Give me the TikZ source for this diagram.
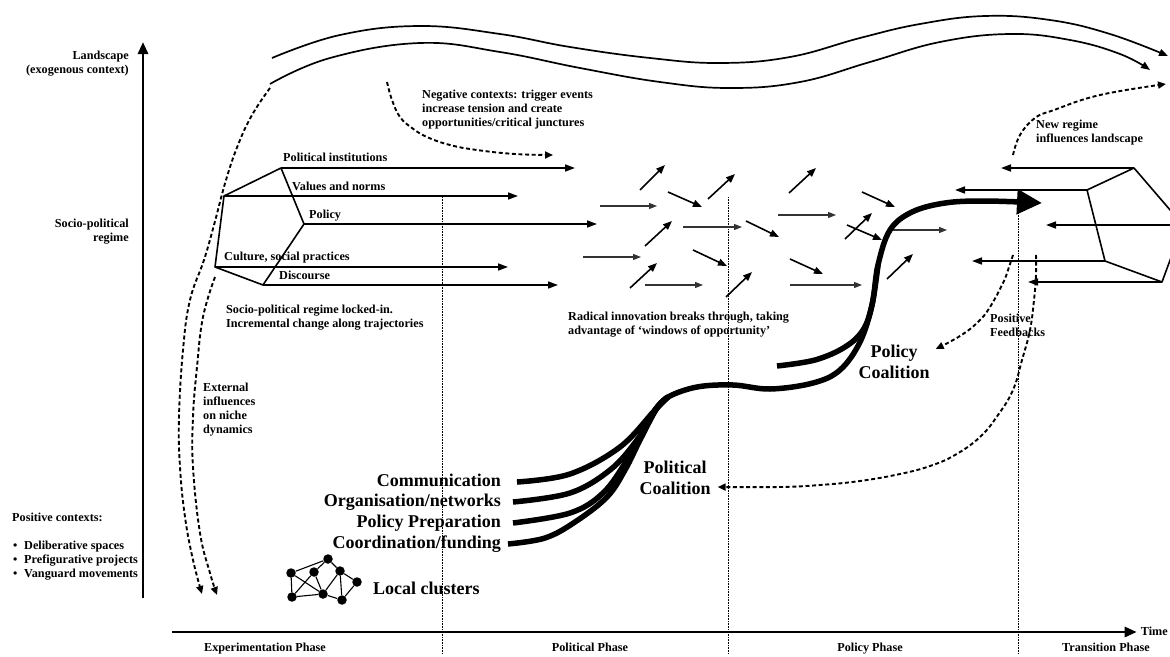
\documentclass[tikz,border=0pt]{standalone}
\usepackage{fontspec}
\setmainfont{Liberation Serif}
\usetikzlibrary{arrows.meta}

\tikzset{
  axis/.style={line width=2.8pt, -{Triangle[length=12pt,width=10pt]}},
  wave/.style={line width=1.7pt, -{Triangle[length=9pt,width=7pt]}},
  regime/.style={line width=1.6pt, -{Triangle[length=10pt,width=7pt]}},
  flow/.style={line width=1.1pt, black!80, -{Triangle[length=8pt,width=6pt]}},
  jump/.style={line width=1.6pt, -{Triangle[length=9pt,width=7pt]}},
  influence/.style={line width=1.9pt, dash pattern=on 4pt off 2.6pt, -{Triangle[length=8pt,width=7pt]}},
  coalition/.style={line width=5.5pt},
  phaseline/.style={line width=0.6pt, dash pattern=on 0.8pt off 0.8pt},
  smalltext/.style={font=\fontsize{12.2}{14}\selectfont\bfseries, inner sep=0pt},
  armtext/.style={smalltext, text height=8.5pt, text depth=2.5pt},
  bigtext/.style={font=\fontsize{18}{20.7}\selectfont\bfseries, inner sep=0pt},
  nichetext/.style={bigtext, text height=12.5pt, text depth=4pt},
  cluster/.style={circle, fill=black, inner sep=0pt, minimum size=9.5pt},
}

\begin{document}
\begin{tikzpicture}[x=1pt,y=-1pt]
\useasboundingbox[fill=white] (0,0) rectangle (1170,656);

% Axes and phases
\coordinate (origin) at (172,632);
\node[armtext, anchor=east] (time) at (1168,632) {Time};
\draw[axis] (143,598) -- (143,42);
\draw[axis] (origin) -- ([xshift=-4pt]time.west);
\foreach \x in {442,728,1018}
  \draw[phaseline] (\x,197) -- (\x,654);
\node[armtext] (expph) at (265,648) {Experimentation Phase};
\node[armtext] (polph) at (590,648) {Political Phase};
\node[armtext] (pcyph) at (870,648) {Policy Phase};
\node[armtext] (traph) at (1106,648) {Transition Phase};

% Levels
\node[smalltext, align=right, anchor=east] (land) at (129,64) {Landscape\\(exogenous context)};
\node[smalltext, align=right, anchor=east] (sreg) at (129,232) {Socio-political\\regime};
\node[armtext, anchor=west] (pos) at (12,518) {Positive contexts:};
\node[smalltext, align=left, anchor=west] (posl) at (13,561)
  {\makebox[11pt][l]{\textbullet}Deliberative spaces\\
   \makebox[11pt][l]{\textbullet}Prefigurative projects\\
   \makebox[11pt][l]{\textbullet}Vanguard movements};

% Landscape waves
\draw[wave] plot[smooth, tension=0.7] coordinates {(272,58) (340,35) (420,26) (500,34)
  (570,47) (650,58) (720,63) (790,57) (860,38) (920,24) (985,16) (1050,20) (1110,34) (1168,56)};
\draw[wave] plot[smooth, tension=0.7] coordinates {(270,84) (330,58) (420,43) (500,52)
  (580,68) (660,82) (730,88) (800,82) (870,62) (940,42) (1010,34) (1070,40) (1120,54) (1150,70)};

% Old regime
\coordinate (lpa) at (281,168);
\coordinate (lpb) at (224,196);
\coordinate (lpc) at (304,224);
\coordinate (lpd) at (215,267);
\coordinate (lpe) at (263,285);
\draw[line width=1.6pt, line join=round] (lpa) -- (lpb) -- (lpd) -- (lpe) -- (lpc) -- cycle;
\draw[regime] (lpa) -- ++(294,0);
\draw[regime] (lpb) -- ++(294,0);
\draw[regime] (lpc) -- ++(293,0);
\draw[regime] (lpd) -- ++(293,0);
\draw[regime] (lpe) -- ++(295,0);
\node[armtext, anchor=west] (inst) at (283,158) {Political institutions};
\node[armtext, anchor=west] (vals) at (292,187) {Values and norms};
\node[armtext, anchor=west] (poly) at (309,215) {Policy};
\node[armtext, anchor=west] (cult) at (224,257) {Culture, social practices};
\node[armtext, anchor=west] (disc) at (279,276) {Discourse};
\node[smalltext, align=left, anchor=west] (lock) at (226,318)
  {Socio-political regime locked-in.\\Incremental change along trajectories};

% New regime
\coordinate (rpa) at (1134,168);
\coordinate (rpb) at (1087,190);
\coordinate (rpc) at (1183,225);
\coordinate (rpd) at (1105,261);
\coordinate (rpe) at (1162,282);
\draw[line width=1.6pt, line join=round] (rpa) -- (rpb) -- (rpd) -- (rpe) -- (rpc) -- cycle;
\draw[regime] (rpa) -- ++(-133,0);
\draw[regime] (rpb) -- ++(-132,0);
\draw[regime] (rpc) -- ++(-137,0);
\draw[regime] (rpd) -- ++(-133,0);
\draw[regime] (rpe) -- ++(-134,0);

% Breakthrough arrows
\foreach \a/\b/\c/\d in {640/190/665/165, 668/192/702/207, 708/199/735/174, 645/246/672/221,
  746/221/779/237, 693/250/727/266, 630/288/657/263, 726/297/752/272, 789/193/816/168,
  790/259/823/274, 862/192/895/207, 845/239/872/213, 847/225/882/240, 887/279/913/254}
  \draw[jump] (\a,\b) -- (\c,\d);
\foreach \a/\b/\c in {600/206/657, 683/227/742, 583/257/641, 645/285/703,
  778/215/836, 790/285/862, 888/230/947}
  \draw[flow] (\a,\b) -- (\c,\b);
\node[smalltext, align=left, anchor=west] (radi) at (568,325)
  {Radical innovation breaks through, taking\\advantage of `windows of opportunity'};

% Niche
\node[nichetext, anchor=east] (comm) at (501,482) {Communication};
\node[nichetext, anchor=east] (orga) at (501,502) {Organisation/networks};
\node[nichetext, anchor=east] (prep) at (501,523) {Policy Preparation};
\node[nichetext, anchor=east] (coor) at (501,544) {Coordination/funding};
\node[bigtext, align=center] (pcoal) at (675,478) {Political\\Coalition};
\node[bigtext, align=center] (ycoal) at (894,362) {Policy\\Coalition};
\node[nichetext, anchor=west] (locl) at (373,590) {Local clusters};

% Coalition pathway
\draw[coalition] plot[smooth, tension=0.6] coordinates {([xshift=16pt]comm.east) (570,474) (620,447) (655,410) (668,397)};
\draw[coalition] plot[smooth, tension=0.6] coordinates {([xshift=12pt]orga.east) (570,493) (610,470) (637,440) (655,410) (668,397)};
\draw[coalition] plot[smooth, tension=0.6] coordinates {([xshift=12pt]prep.east) (570,513) (603,493) (627,460) (645,428) (657,408) (668,397)};
\draw[coalition] plot[smooth, tension=0.6] coordinates {([xshift=7pt]coor.east) (545,538) (575,522) (607,497) (625,470) (640,440) (657,408) (668,397)};
\draw[coalition] plot[smooth, tension=0.6] coordinates {(777,366) (815,360) (845,347) (863,330) (872,305) (878,265)};
\draw[coalition, -{Triangle[length=25pt,width=24pt]}] plot[smooth, tension=0.6] coordinates {(655,410) (668,397)
  (697,387) (733,385) (770,389) (813,383) (840,370) (860,342) (872,305) (878,265) (890,230)
  (912,212) (945,203) (985,201) (1042,203)};

% Local clusters
\node[cluster] (c1) at (291,573) {};
\node[cluster] (c2) at (292,597) {};
\node[cluster] (c3) at (314,572) {};
\node[cluster] (c4) at (328,559) {};
\node[cluster] (c5) at (323,594) {};
\node[cluster] (c6) at (340,571) {};
\node[cluster] (c7) at (357,582) {};
\node[cluster] (c8) at (342,600) {};
\foreach \u/\v in {c1/c2, c1/c4, c1/c5, c2/c3, c2/c5, c3/c4, c3/c5, c4/c6, c5/c6, c6/c7, c6/c8, c7/c8, c5/c8}
  \draw[line width=1.1pt] (\u) -- (\v);

% Influences
\draw[influence] plot[smooth, tension=0.7] coordinates {(270,88) (252,115) (238,145) (226,180) (214,225)
  (204,260) (190,300) (183,350) (179,417) (180,467) (185,517) (193,560) (202,594)};
\draw[influence] plot[smooth, tension=0.7] coordinates {(215,277) (203,317) (197,367) (193,417)
  (193,467) (200,533) (210,573) (217,595)};
\node[smalltext, align=left, anchor=west] (extn) at (203,410) {External\\influences\\on niche\\dynamics};
\draw[influence] plot[smooth, tension=0.7] coordinates {(387,82) (392,100) (400,117) (412,128)
  (427,137) (450,145) (477,150) (515,154) (553,155)};
\node[smalltext, align=left, anchor=west] (nega) at (422,110)
  {Negative contexts: trigger events\\increase tension and create\\opportunities/critical junctures};
\draw[influence] plot[smooth, tension=0.7] coordinates {(1013,155) (1020,135) (1035,118)
  (1054,110) (1100,95) (1166,84)};
\node[smalltext, align=left, anchor=west] (newr) at (1036,133) {New regime\\influences landscape};
\draw[influence] plot[smooth, tension=0.7] coordinates {(1013,255) (1008,270) (1003,283)
  (990,307) (978,322) (960,336) ([shift={(6,-13)}]ycoal.east)};
\draw[influence] plot[smooth, tension=0.7] coordinates {(1036,255) (1036,275) (1034,300)
  (1030,330) (1022,360) (1013,390) (998,415) (980,437) (955,455) (930,466) (900,474)
  (860,481) (820,485) (780,487) ([shift={(7,9)}]pcoal.east)};
\node[smalltext, align=left, anchor=west] (posf) at (990,325) {Positive\\Feedbacks};
\end{tikzpicture}
\end{document}
